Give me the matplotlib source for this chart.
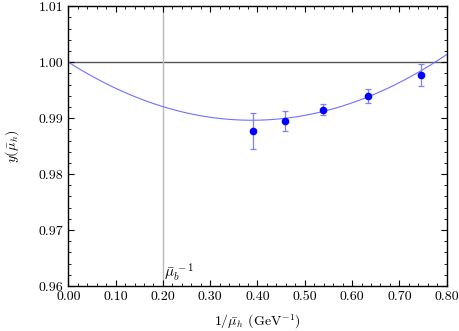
import matplotlib
matplotlib.use("Agg")
import matplotlib.pyplot as plt
import numpy as np
from matplotlib.ticker import MultipleLocator, FormatStrFormatter

plt.rcParams['font.family'] = 'serif'
plt.rcParams['font.serif'] = ['cmr10']
plt.rcParams['mathtext.fontset'] = 'cm'
plt.rcParams['axes.formatter.use_mathtext'] = True

# data points
inv_mu = [0.390, 0.459, 0.539, 0.634, 0.746]
y_vals = [0.9877, 0.9895, 0.9915, 0.9940, 0.9977]
y_errs = [0.0033, 0.0018, 0.0010, 0.00125, 0.0020]

# fit curve y = 1 + a*x + b*x^2
fit_a = -0.0535
fit_b = 0.069

mu_b_inv = 0.20

fig = plt.figure(figsize=(4.59, 3.31), dpi=100)
ax = fig.add_axes([0.149, 0.136, 0.824, 0.845])

xs = np.linspace(0, 0.8, 200)
ax.plot(xs, 1 + fit_a * xs + fit_b * xs**2, color="#7070ff", lw=0.8, zorder=2)
ax.axhline(1.0, color="#555555", lw=1.0, zorder=1)
ax.axvline(mu_b_inv, color="#bbbbbb", lw=1.0, zorder=1)

ax.errorbar(inv_mu, y_vals, yerr=y_errs, fmt="o", color="blue", ms=4.5,
            ecolor="#8080ff", elinewidth=0.9, capsize=2.2, capthick=0.9, zorder=3)

ax.text(mu_b_inv + 0.003, 0.9603, r"$\bar{\mu}_b^{\,-1}$", fontsize=11, va="bottom", ha="left")

ax.set_xlim(0, 0.8)
ax.set_ylim(0.96, 1.01)
ax.xaxis.set_major_locator(MultipleLocator(0.1))
ax.xaxis.set_minor_locator(MultipleLocator(0.02))
ax.yaxis.set_major_locator(MultipleLocator(0.01))
ax.yaxis.set_minor_locator(MultipleLocator(0.002))
ax.xaxis.set_major_formatter(FormatStrFormatter("%.2f"))
ax.yaxis.set_major_formatter(FormatStrFormatter("%.2f"))
ax.tick_params(which="both", direction="in", top=True, right=True, labelsize=10)
ax.tick_params(which="major", length=4, width=0.8)
ax.tick_params(which="minor", length=2, width=0.6)
for s in ax.spines.values():
    s.set_linewidth(1.0)

ax.set_xlabel(r"$1/\bar{\mu}_h$ (GeV$^{-1}$)", fontsize=10, labelpad=7)
ax.set_ylabel(r"$y(\bar{\mu}_h)$", fontsize=10, labelpad=13)

fig.savefig("out.png", dpi=100)
